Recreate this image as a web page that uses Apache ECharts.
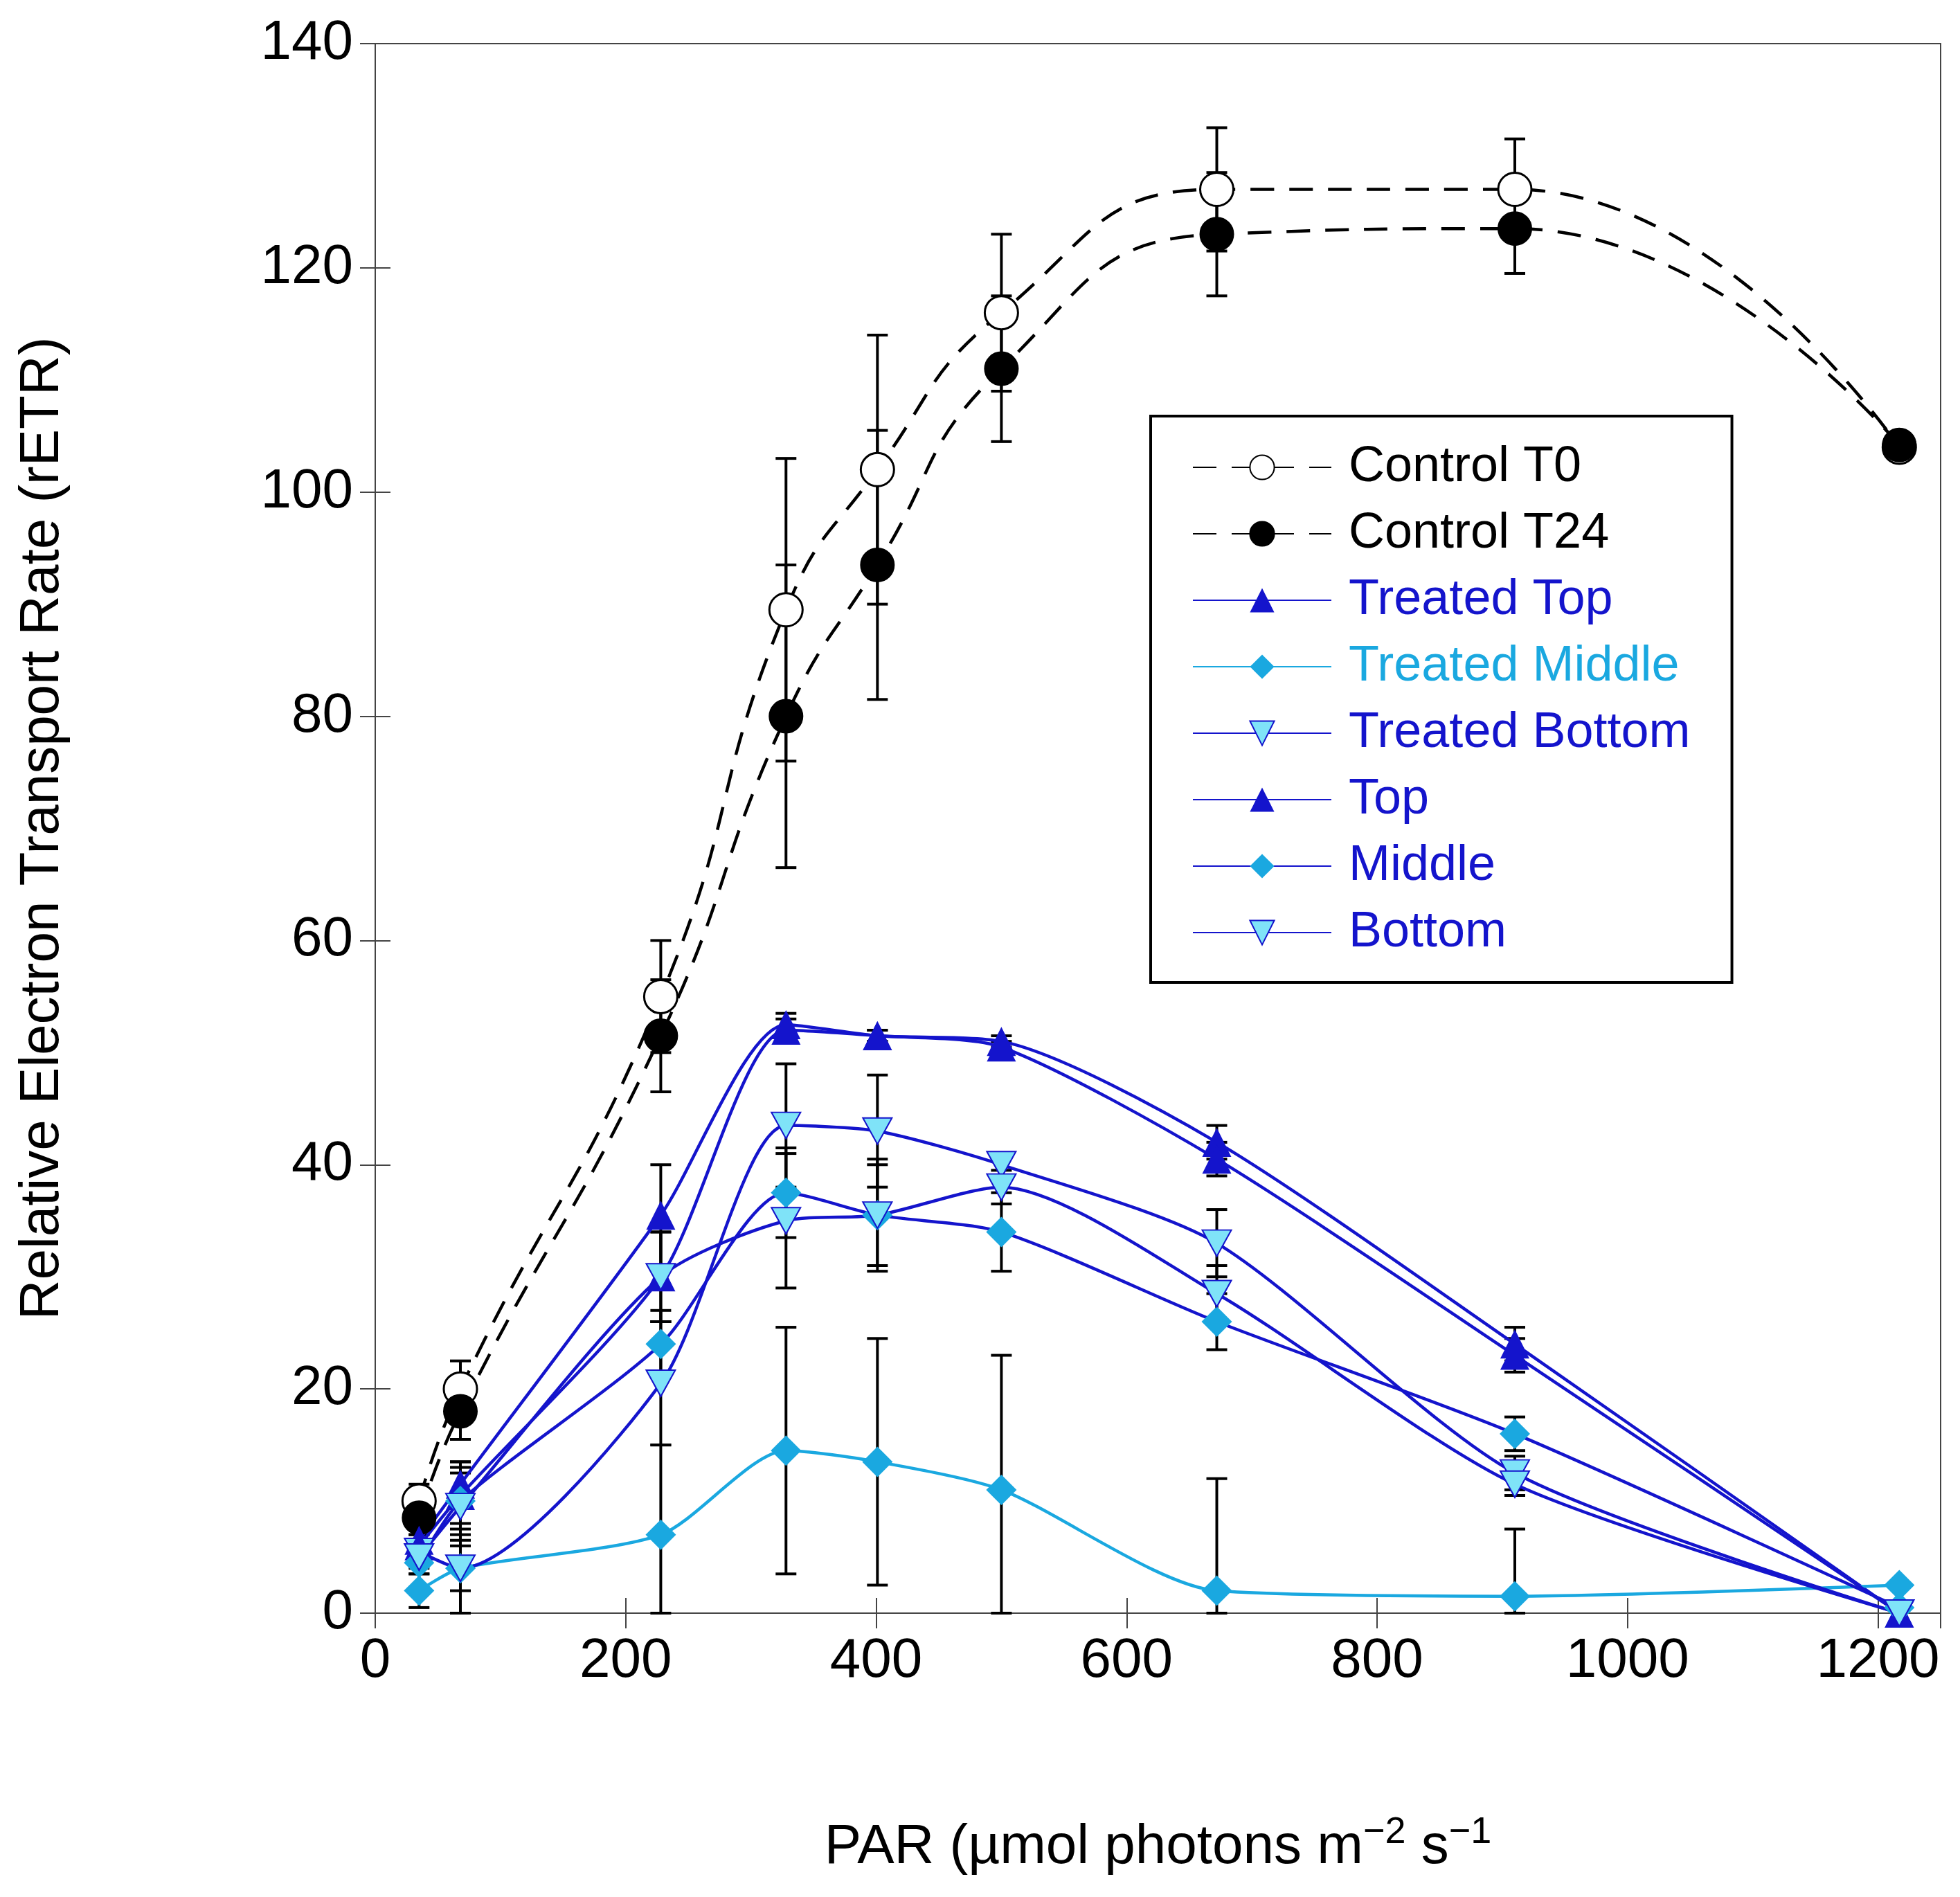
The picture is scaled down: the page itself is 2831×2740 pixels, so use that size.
<!DOCTYPE html>
<html>
<head>
<meta charset="utf-8">
<script src="https://cdn.jsdelivr.net/npm/echarts@6/dist/echarts.min.js"></script>
<style>html,body{margin:0;padding:0;background:#fff}#chart{width:2831px;height:2740px}</style>
</head>
<body>
<div id="chart"></div>
<script>
var par = [35, 68, 228, 328, 401, 500, 672, 910, 1217];

var controlT0 = [10, 20, 55, 89.5, 102, 116, 127, 127, 104];
var controlT0Err = [1.5, 2.5, 5, 13.5, 12, 7, 5.5, 4.5, 0.5];
var controlT24 = [8.5, 18, 51.5, 80, 93.5, 111, 123, 123.5, 104.2];
var controlT24Err = [1.5, 2.5, 5, 13.5, 12, 6.5, 5.5, 4, 0.5];
var treatedTop = [6.5, 11.5, 35.5, 52.5, 51.5, 51, 42, 24, 0];
var treatedTopErr = [1, 2, 4.5, 1, 0.5, 0.5, 1.5, 1.5, 0];
var treatedMiddle = [2, 4, 7, 14.5, 13.5, 11, 2, 1.5, 2.5];
var treatedMiddleErr = [1.5, 4, 8, 11, 11, 12, 10, 6, 0];
var treatedBottom = [5.5, 4, 20.5, 43.5, 43, 40, 33, 12.5, 0];
var treatedBottomErr = [1, 2, 5.5, 5.5, 5, 1, 3, 1.5, 0];
var top2 = [6, 10.5, 30, 52, 51.5, 50.5, 40.5, 23, 0];
var top2Err = [1, 3, 4, 1, 0.5, 0.5, 1.5, 1.5, 0];
var middle = [4.5, 10, 24, 37.5, 35.5, 34, 26, 16, 0.5];
var middleErr = [1, 3, 3, 4, 4.5, 3.5, 2.5, 1.5, 0];
var bottom = [5, 9.5, 30, 35, 35.5, 38, 28.5, 11.5, 0];
var bottomErr = [1, 3, 4, 6, 5, 1.5, 2.5, 1, 0];

var BLUE = '#1414cc', LIGHT = '#1aa8e0', CYAN = '#7fe3f8';
var triDown = 'path://M0,0L10,0L5,9Z';

function pts(ys) { return par.map(function (x, i) { return [x, ys[i]]; }); }
function errData(ys, es) { return par.map(function (x, i) { return [x, ys[i] - es[i], ys[i] + es[i]]; }); }

function errSeries(ys, es) {
  return {
    type: 'custom', z: 1, silent: true,
    data: errData(ys, es),
    renderItem: function (params, api) {
      if (api.value(2) - api.value(1) < 0.01) return null;
      var lo = api.coord([api.value(0), Math.max(api.value(1), 0)]);
      var hi = api.coord([api.value(0), api.value(2)]);
      var w = 15;
      var st = { stroke: '#000', lineWidth: 4 };
      return { type: 'group', children: [
        { type: 'line', shape: { x1: lo[0], y1: lo[1], x2: hi[0], y2: hi[1] }, style: st },
        { type: 'line', shape: { x1: lo[0] - w, y1: lo[1], x2: lo[0] + w, y2: lo[1] }, style: st },
        { type: 'line', shape: { x1: hi[0] - w, y1: hi[1], x2: hi[0] + w, y2: hi[1] }, style: st }
      ] };
    }
  };
}

function lineSeries(name, ys, opt) {
  return {
    name: name, type: 'line', smooth: opt.smooth || 0.25, z: 3,
    data: pts(ys),
    symbol: opt.symbol, symbolSize: opt.size,
    lineStyle: { color: opt.line, width: 4.5, type: opt.dash || 'solid' },
    itemStyle: { color: opt.fill, borderColor: opt.border, borderWidth: opt.bw || 0 }
  };
}

var series = [
  errSeries(controlT0, controlT0Err), errSeries(controlT24, controlT24Err),
  errSeries(treatedTop, treatedTopErr), errSeries(treatedMiddle, treatedMiddleErr),
  errSeries(treatedBottom, treatedBottomErr), errSeries(top2, top2Err),
  errSeries(middle, middleErr), errSeries(bottom, bottomErr),
  lineSeries('Control T0', controlT0, { symbol: 'circle', size: 48, line: '#000', dash: [34, 22], fill: '#fff', border: '#000', bw: 3, smooth: 0.5 }),
  lineSeries('Control T24', controlT24, { symbol: 'circle', size: 48, line: '#000', dash: [34, 22], fill: '#000', border: '#000', bw: 2, smooth: 0.5 }),
  lineSeries('Treated Top', treatedTop, { symbol: 'triangle', size: 42, line: BLUE, fill: BLUE }),
  lineSeries('Treated Middle', treatedMiddle, { symbol: 'diamond', size: 44, line: LIGHT, fill: LIGHT }),
  lineSeries('Treated Bottom', treatedBottom, { symbol: triDown, size: [42, 38], line: BLUE, fill: CYAN, border: BLUE, bw: 2 }),
  lineSeries('Top', top2, { symbol: 'triangle', size: 42, line: BLUE, fill: BLUE }),
  lineSeries('Middle', middle, { symbol: 'diamond', size: 44, line: BLUE, fill: LIGHT }),
  lineSeries('Bottom', bottom, { symbol: triDown, size: [42, 38], line: BLUE, fill: CYAN, border: BLUE, bw: 2 })
];

var font = 'Liberation Sans';
var axisLine = { show: true, lineStyle: { color: '#444', width: 2 } };
var tickIn = { show: true, inside: true, length: 22, lineStyle: { color: '#444', width: 2 } };

var chart = echarts.init(document.getElementById('chart'));
chart.setOption({
  animation: false,
  backgroundColor: '#fff',
  grid: { left: 542, top: 63, right: 28, bottom: 410, show: true, borderColor: '#444', borderWidth: 2 },
  legend: {
    orient: 'vertical', left: 1662, top: 601, width: 848,
    padding: [38, 60, 36, 60], itemGap: 24, itemWidth: 200, itemHeight: 44,
    backgroundColor: '#fff', borderColor: '#000', borderWidth: 4,
    textStyle: { fontFamily: font, fontSize: 72, color: '#000', padding: [0, 0, 0, 20] },
    data: [
      { name: 'Control T0' },
      { name: 'Control T24' },
      { name: 'Treated Top', textStyle: { color: BLUE } },
      { name: 'Treated Middle', textStyle: { color: LIGHT } },
      { name: 'Treated Bottom', textStyle: { color: BLUE } },
      { name: 'Top', textStyle: { color: BLUE } },
      { name: 'Middle', textStyle: { color: BLUE } },
      { name: 'Bottom', textStyle: { color: BLUE } }
    ]
  },
  xAxis: [{
    type: 'value', min: 0, max: 1250, interval: 200,
    axisLine: axisLine, axisTick: tickIn, splitLine: { show: false },
    axisLabel: { fontFamily: font, fontSize: 80, color: '#000', margin: 30, showMaxLabel: false,
      formatter: function (v) { return String(v); } },
    name: '{a|PAR (µmol photons m}{s|−2}{a| s}{s|−1}',
    nameLocation: 'middle', nameGap: 290,
    nameTextStyle: { rich: {
      a: { fontFamily: font, fontSize: 80, color: '#000' },
      s: { fontFamily: font, fontSize: 54, color: '#000', verticalAlign: 'top', padding: [0, 0, 44, 0] }
    } }
  }, {
    type: 'value', position: 'top', min: 0, max: 1250, interval: 200,
    axisLine: axisLine, axisTick: tickIn, axisLabel: { show: false }, splitLine: { show: false }
  }],
  yAxis: [{
    type: 'value', min: 0, max: 140, interval: 20,
    axisLine: axisLine, axisTick: tickIn, splitLine: { show: false },
    axisLabel: { fontFamily: font, fontSize: 80, color: '#000', margin: 32 },
    name: 'Relative Electron Transport Rate (rETR)',
    nameLocation: 'middle', nameGap: 440,
    nameTextStyle: { fontFamily: font, fontSize: 80, color: '#000' }
  }, {
    type: 'value', position: 'right', min: 0, max: 140, interval: 20,
    axisLine: axisLine, axisTick: tickIn, axisLabel: { show: false }, splitLine: { show: false }
  }],
  series: series
});
</script>
</body>
</html>
